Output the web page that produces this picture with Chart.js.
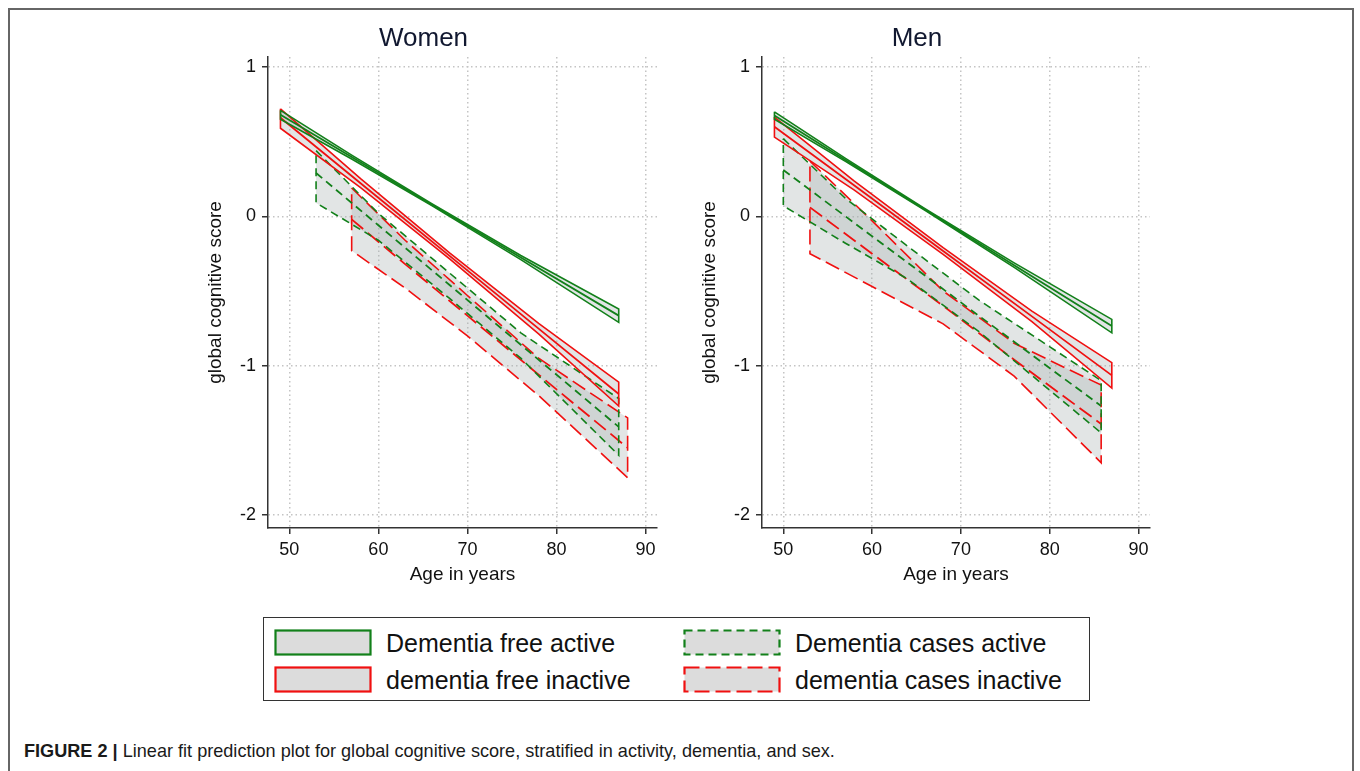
<!DOCTYPE html>
<html>
<head>
<meta charset="utf-8">
<script src="https://cdn.jsdelivr.net/npm/chart.js@4"></script>
<style>
  html, body { margin: 0; padding: 0; background: #fff; width: 1360px; height: 771px; overflow: hidden; }
  body { position: relative; font-family: 'Liberation Sans', Arial, sans-serif; }
  #frame { position: absolute; left: 8px; top: 8px; width: 1346px; height: 800px; border: 2px solid #666; box-sizing: border-box; }
  canvas { position: absolute; }
  #legend { position: absolute; left: 263px; top: 617px; width: 827px; height: 84px; border: 1.5px solid #333; box-sizing: border-box; background: #fff; }
  .item { position: absolute; height: 30px; display: flex; align-items: center; font-size: 25px; color: #111; white-space: nowrap; }
  .item svg { margin-right: 14px; flex: none; }
  #caption { position: absolute; left: 24px; top: 740px; font-size: 19px; color: #1a1a1a; white-space: nowrap; transform-origin: 0 0; font-family: 'Liberation Sans Narrow', 'Liberation Sans', Arial, sans-serif; }
</style>
</head>
<body>
<div id="frame"></div>
<canvas id="women" width="480" height="590" style="left:190px; top:15px;"></canvas>
<canvas id="men" width="479" height="590" style="left:684px; top:15px;"></canvas>
<div id="legend"></div>
<div id="caption"><b>FIGURE 2 |</b> Linear fit prediction plot for global cognitive score, stratified in activity, dementia, and sex.</div>
<script>
// ---------------- DATA ----------------
const panelTitles = ['Women', 'Men'];
const xTickValues = [50, 60, 70, 80, 90];
const yTickValues = [1, 0, -1, -2];
const xAxisTitle = 'Age in years';
const yAxisTitle = 'global cognitive score';
const groupLabels = ['Dementia free active', 'dementia free inactive', 'Dementia cases active', 'dementia cases inactive'];

// Women
const wFreeActiveAge   = [49, 57, 66, 76, 87];
const wFreeActiveFit   = [0.68, 0.397, 0.078, -0.276, -0.665];
const wFreeActiveHi    = [0.71, 0.41, 0.084, -0.262, -0.62];
const wFreeActiveLo    = [0.65, 0.384, 0.072, -0.290, -0.71];

const wFreeInactiveAge = [49, 58, 68, 78, 87];
const wFreeInactiveFit = [0.66, 0.222, -0.265, -0.752, -1.19];
const wFreeInactiveHi  = [0.72, 0.252, -0.245, -0.717, -1.11];
const wFreeInactiveLo  = [0.59, 0.192, -0.285, -0.787, -1.27];

const wCasesActiveAge  = [53, 60, 68, 76, 87];
const wCasesActiveFit  = [0.29, -0.06, -0.46, -0.86, -1.41];
const wCasesActiveHi   = [0.44, 0.02, -0.38, -0.78, -1.22];
const wCasesActiveLo   = [0.09, -0.16, -0.55, -0.95, -1.60];

const wCasesInactiveAge = [57, 63, 70, 78, 88];
const wCasesInactiveFit = [-0.02, -0.32, -0.665, -1.06, -1.55];
const wCasesInactiveHi  = [0.19, -0.16, -0.53, -0.95, -1.35];
const wCasesInactiveLo  = [-0.23, -0.48, -0.80, -1.20, -1.75];

// Men
const mFreeActiveAge   = [49, 57, 66, 76, 87];
const mFreeActiveFit   = [0.675, 0.378, 0.044, -0.327, -0.735];
const mFreeActiveHi    = [0.70, 0.388, 0.049, -0.312, -0.69];
const mFreeActiveLo    = [0.65, 0.368, 0.039, -0.342, -0.78];

const mFreeInactiveAge = [49, 58, 68, 78, 87];
const mFreeInactiveFit = [0.60, 0.206, -0.232, -0.670, -1.065];
const mFreeInactiveHi  = [0.665, 0.236, -0.21, -0.635, -0.98];
const mFreeInactiveLo  = [0.53, 0.176, -0.254, -0.705, -1.15];

const mCasesActiveAge  = [50, 57, 64, 72, 85.8];
const mCasesActiveFit  = [0.31, 0.0, -0.31, -0.665, -1.27];
const mCasesActiveHi   = [0.52, 0.12, -0.20, -0.56, -1.10];
const mCasesActiveLo   = [0.07, -0.18, -0.42, -0.77, -1.45];

const mCasesInactiveAge = [53, 60, 68, 76, 85.8];
const mCasesInactiveFit = [0.06, -0.25, -0.60, -0.96, -1.39];
const mCasesInactiveHi  = [0.37, -0.03, -0.50, -0.85, -1.13];
const mCasesInactiveLo  = [-0.25, -0.47, -0.72, -1.07, -1.65];

// ---------------- STYLE ----------------
const GREEN = '#12801a';
const RED = '#f01010';
const BAND_FILL = 'rgba(165,175,175,0.32)';
const FONT = "'Liberation Sans', Arial, sans-serif";
const groupStyles = [
  { color: GREEN, dash: [] },
  { color: RED,   dash: [] },
  { color: GREEN, dash: [8, 5] },
  { color: RED,   dash: [15, 6] }
];

function bandDatasets(age, fit, hi, lo, style) {
  const poly = age.map((a, i) => ({ x: a, y: hi[i] }))
    .concat(age.slice().reverse().map((a, i) => ({ x: a, y: lo[lo.length - 1 - i] })));
  poly.push({ x: age[0], y: hi[0] });
  return [
    { band: true, data: poly, showLine: true, fill: false, borderColor: style.color, borderWidth: 1.6,
      borderDash: style.dash, pointRadius: 0, tension: 0 },
    { data: age.map((a, i) => ({ x: a, y: fit[i] })), showLine: true, fill: false, borderColor: style.color,
      borderWidth: 1.8, borderDash: style.dash, pointRadius: 0, tension: 0 }
  ];
}

const bandFill = {
  id: 'bandFill',
  beforeDatasetsDraw(chart) {
    const ctx = chart.ctx, a = chart.chartArea;
    ctx.save();
    ctx.beginPath(); ctx.rect(a.left, a.top, a.right - a.left, a.bottom - a.top); ctx.clip();
    chart.data.datasets.forEach((ds, i) => {
      if (!ds.band) return;
      const pts = chart.getDatasetMeta(i).data;
      ctx.beginPath();
      pts.forEach((p, j) => j ? ctx.lineTo(p.x, p.y) : ctx.moveTo(p.x, p.y));
      ctx.closePath();
      ctx.fillStyle = BAND_FILL;
      ctx.fill();
    });
    ctx.restore();
  }
};

function makeChart(id, title, groups) {
  const datasets = [];
  groups.forEach((g, k) => datasets.push(...bandDatasets(g[0], g[1], g[2], g[3], groupStyles[k])));
  return new Chart(document.getElementById(id), {
    type: 'scatter',
    data: { datasets },
    plugins: [bandFill],
    options: {
      responsive: false, animation: false, devicePixelRatio: 1,
      layout: { padding: { left: 0, right: 13, top: 0, bottom: 0 } },
      plugins: {
        legend: { display: false }, tooltip: { enabled: false },
        title: { display: true, text: title, color: '#111830', font: { family: FONT, size: 26, weight: 'normal' },
                 padding: { top: 8.4, bottom: 2.4 } }
      },
      scales: {
        x: {
          type: 'linear', min: 47.6, max: 91.3,
          afterBuildTicks: s => { s.ticks = xTickValues.map(v => ({ value: v })); },
          afterFit: s => { s.height = 77; },
          ticks: { color: '#111', font: { family: FONT, size: 18 }, padding: 5, maxRotation: 0 },
          grid: { color: '#c4c4c4', lineWidth: 1.5, tickLength: 6, tickColor: '#333', tickWidth: 1.5, tickBorderDash: [] },
          border: { display: true, color: '#333', width: 1.5, dash: [1.5, 3] },
          title: { display: true, text: xAxisTitle, color: '#111', font: { family: FONT, size: 19 }, padding: { top: 0, bottom: 18.6 } }
        },
        y: {
          type: 'linear', min: -2.087, max: 1.067,
          afterBuildTicks: s => { s.ticks = yTickValues.map(v => ({ value: v })); },
          afterFit: s => { s.width = 78; },
          ticks: { color: '#111', font: { family: FONT, size: 18 }, padding: 6 },
          grid: { color: '#c4c4c4', lineWidth: 1.5, tickLength: 6, tickColor: '#333', tickWidth: 1.5, tickBorderDash: [] },
          border: { display: true, color: '#333', width: 1.5, dash: [1.5, 3] },
          title: { display: true, text: yAxisTitle, color: '#111', font: { family: FONT, size: 19 }, padding: { top: 14.6, bottom: 0 } }
        }
      }
    }
  });
}

makeChart('women', panelTitles[0], [
  [wFreeActiveAge, wFreeActiveFit, wFreeActiveHi, wFreeActiveLo],
  [wFreeInactiveAge, wFreeInactiveFit, wFreeInactiveHi, wFreeInactiveLo],
  [wCasesActiveAge, wCasesActiveFit, wCasesActiveHi, wCasesActiveLo],
  [wCasesInactiveAge, wCasesInactiveFit, wCasesInactiveHi, wCasesInactiveLo]
]);
makeChart('men', panelTitles[1], [
  [mFreeActiveAge, mFreeActiveFit, mFreeActiveHi, mFreeActiveLo],
  [mFreeInactiveAge, mFreeInactiveFit, mFreeInactiveHi, mFreeInactiveLo],
  [mCasesActiveAge, mCasesActiveFit, mCasesActiveHi, mCasesActiveLo],
  [mCasesInactiveAge, mCasesInactiveFit, mCasesInactiveHi, mCasesInactiveLo]
]);

// ---------------- LEGEND ----------------
const legend = document.getElementById('legend');
const legendPos = [[10, 10], [10, 47], [419, 10], [419, 47]];
groupLabels.forEach((label, k) => {
  const st = groupStyles[k];
  const div = document.createElement('div');
  div.className = 'item';
  div.style.left = legendPos[k][0] + 'px';
  div.style.top = legendPos[k][1] + 'px';
  div.innerHTML = '<svg width="98" height="28"><rect x="1.5" y="1.5" width="95" height="24" fill="#dcdcdc" stroke="' + st.color +
    '" stroke-width="2.2" stroke-dasharray="' + (st.dash.length ? st.dash.join(',') : 'none') + '"/></svg><span>' + label + '</span>';
  legend.appendChild(div);
});

// fit caption to its width in the reference
const cap = document.getElementById('caption');
cap.style.transform = 'scaleX(' + (811 / cap.scrollWidth) + ')';
</script>
</body>
</html>
